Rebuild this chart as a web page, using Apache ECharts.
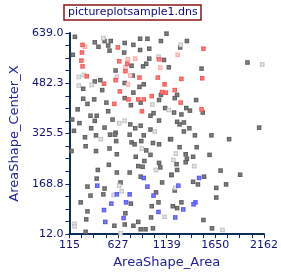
<!DOCTYPE html>
<html>
<head>
<meta charset="utf-8">
<script src="https://cdn.jsdelivr.net/npm/echarts@6/dist/echarts.min.js"></script>
<style>html,body{margin:0;padding:0;background:#fff}#c{width:281px;height:274px}</style>
</head>
<body>
<div id="c"></div>
<script>
// ---- data (AreaShape_Area, AreaShape_Center_X) ----
var titleText = 'pictureplotsample1.dns';
var xName = 'AreaShape_Area';
var yName = 'AreaShape_Center_X';
var xTickValues = [115, 626.75, 1138.5, 1650.25, 2162];
var xTickLabels = ['115', '627', '1139', '1650', '2162'];
var yTickValues = [12, 168.75, 325.5, 482.25, 639];
var yTickLabels = ['12.0', '168.8', '325.5', '482.3', '639.0'];

var darkPts = [
[173,627],[382,610],[421,596],[485,614],[550,614],[523,600],[537,584],[697,608],[788,602],[859,621],
[936,621],[859,586],[955,590],[1078,614],[1136,637],[151,571],[691,578],[769,537],[890,535],[923,543],
[955,559],[1110,555],[1161,532],[601,522],[260,465],[382,488],[440,492],[460,461],[697,483],[781,506],
[897,479],[852,471],[788,453],[697,436],[865,422],[1078,446],[1058,430],[260,434],[305,418],[376,432],
[504,422],[762,414],[202,401],[523,395],[337,381],[402,381],[382,365],[569,369],[755,354],[865,350],
[968,381],[1000,389],[1058,366],[1122,405],[144,369],[221,358],[163,334],[344,342],[485,344],[807,342],
[968,338],[601,328],
[1351,614],[1280,594],[1988,547],[1505,528],[1248,446],[1223,436],[1448,430],[1518,391],[1216,391],[1344,405],
[1383,397],[1293,385],[1248,362],[1274,354],[1319,360],[1377,342],[1319,332],[2111,344],
[279,314],[395,320],[543,322],[595,322],[749,322],[897,320],[607,302],[769,298],[801,292],[871,302],
[994,296],[1058,292],[1174,308],[286,286],[137,271],[395,271],[537,279],[923,273],[614,261],[968,259],
[813,253],[904,240],[530,228],[839,224],[885,222],[1058,234],[1071,220],[414,212],[614,204],[749,204],
[865,191],[402,185],[1090,173],[1187,196],[653,173],[485,154],[305,160],[1026,142],[337,132],[472,136],
[234,111],[762,107],[1052,111],[981,99],[305,83],[704,77],[292,58],[974,64],[697,42],[588,38],
[788,38],[839,50],[865,27],[916,27],[994,30],[286,19],
[1435,320],[1609,320],[1184,308],[1795,308],[1274,283],[1454,283],[1338,261],[1589,259],[1416,253],[1351,247],
[1338,236],[1242,230],[1248,212],[1705,210],[1190,197],[1911,197],[1532,191],[1416,175],[1467,167],[1763,167],
[1223,148],[1660,156],[1660,126],[1293,111],[1203,99],[1248,93],[1525,56],[1615,30]
];
var lightPts = [
[472,623],[1052,565],[214,502],[267,508],[214,475],[350,477],[614,502],[987,416],[639,358],[697,365],
[1161,399],[1013,332],[1286,602],[2143,541],[446,308],[878,279],[1026,212],[639,163],[665,146],[581,134],
[1116,66],[170,44],[170,36],[653,15],[1235,263],[1209,243],[1428,224],[1228,156],[1725,25]
];
var redPts = [
[253,602],[624,594],[247,578],[241,553],[253,535],[639,551],[723,543],[704,520],[1058,557],[298,504],
[479,481],[601,492],[852,500],[1045,500],[1116,479],[646,457],[736,432],[839,432],[897,432],[981,442],
[1090,455],[1129,453],[588,418],[878,395],[1525,590],[1293,496],[1512,498],[1223,461],[1286,422],[1505,401]
];
var paleRedPts = [
[279,596],[730,557],[807,559],[704,531],[1071,531],[730,479],[755,506],[1254,571]
];
var bluePts = [
[897,187],[408,163],[936,160],[1000,132],[614,136],[749,136],[556,107],[711,111],[479,87],[1052,81],
[685,62],[492,50],[1479,187],[1261,163],[1441,111],[1421,105],[1312,89],[1228,64]
];

function minorTicks(major){
  var out = [];
  for (var i = 0; i < major.length; i++) {
    out.push(major[i]);
    if (i < major.length - 1) {
      var step = (major[i+1] - major[i]) / 4;
      for (var k = 1; k < 4; k++) out.push(major[i] + step * k);
    }
  }
  return out;
}
function labelFor(values, labels){
  return function(v){
    var best = 0, bd = Infinity;
    for (var i = 0; i < values.length; i++) { var d = Math.abs(values[i] - v); if (d < bd) { bd = d; best = i; } }
    return labels[best];
  };
}
function grad(c0, c1){
  return {type:'radial', x:0.5, y:0.5, r:0.7, colorStops:[{offset:0,color:c0},{offset:1,color:c1}]};
}
var navy = '#0c2c5c';
var labelColor = '#10107a';
var font = 'DejaVu Sans, Verdana, sans-serif';

function sc(data, c0, c1, z){
  return {type:'scatter', data:data, symbol:'rect', symbolSize:4.5, z:z,
    itemStyle:{color:grad(c0,c1), opacity:1}, emphasis:{disabled:true}, animation:false};
}

var chart = echarts.init(document.getElementById('c'), null, {renderer:'canvas'});
chart.setOption({
  animation:false,
  backgroundColor:'#ffffff',
  title:{text:titleText, left:64, top:5, padding:[2,4,2,4], borderColor:'#8b1414', borderWidth:1.5,
    textStyle:{color:'#0a0a80', fontSize:11, fontWeight:'normal', fontFamily:font}},
  grid:{left:54, right:15, top:33, bottom:37, containLabel:false},
  xAxis:{type:'value', min:115, max:2162, name:xName, nameLocation:'middle', nameGap:19,
    nameTextStyle:{color:'#22229a', fontSize:13, fontFamily:font},
    axisLine:{show:true, onZero:false, lineStyle:{color:navy, width:2}},
    axisTick:{show:true, length:4, customValues:minorTicks(xTickValues), lineStyle:{color:navy, width:1}},
    axisLabel:{show:true, margin:6, customValues:xTickValues, formatter:labelFor(xTickValues,xTickLabels),
      color:labelColor, fontSize:11, fontFamily:font},
    splitLine:{show:false}},
  yAxis:{type:'value', min:12, max:639, name:yName, nameLocation:'middle', nameGap:36,
    nameTextStyle:{color:'#22229a', fontSize:13, fontFamily:font},
    axisLine:{show:true, onZero:false, lineStyle:{color:navy, width:2}},
    axisTick:{show:true, length:4, customValues:minorTicks(yTickValues), lineStyle:{color:navy, width:1}},
    axisLabel:{show:true, margin:6, customValues:yTickValues, formatter:labelFor(yTickValues,yTickLabels),
      color:labelColor, fontSize:11, fontFamily:font},
    splitLine:{show:false}},
  series:[
    sc(darkPts,'#8c8c8c','#464646',2),
    sc(lightPts,'#f6f6f6','#a8a8a8',3),
    sc(paleRedPts,'#ffe0e0','#ff8c8c',4),
    sc(redPts,'#ff8a8a','#ff3a3a',5),
    sc(bluePts,'#8a8aff','#3a3aff',6)
  ]
});
</script>
</body>
</html>
